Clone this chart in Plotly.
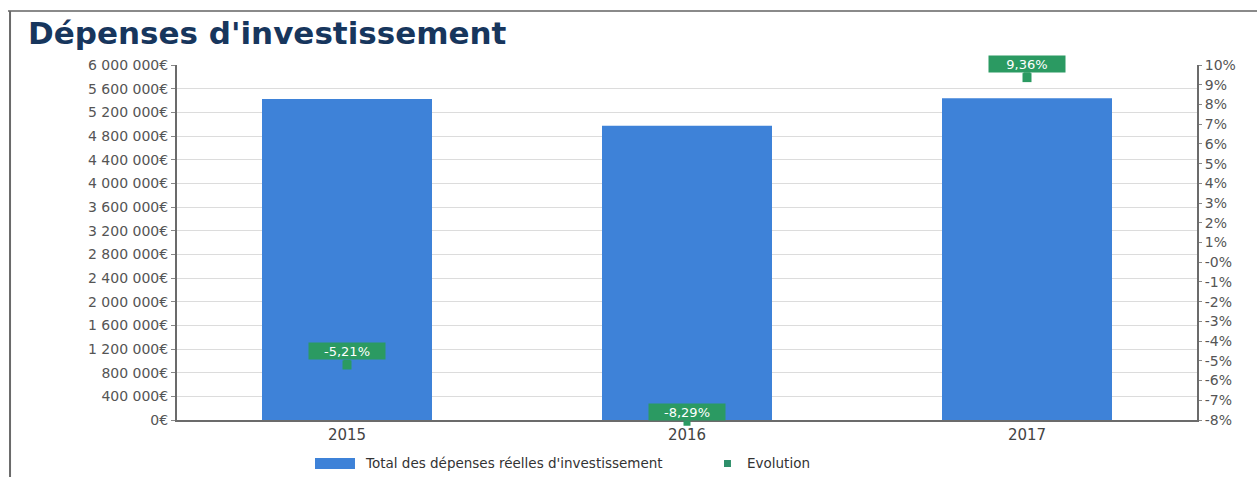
import plotly.graph_objects as go

# Data
years = ["2015", "2016", "2017"]
depenses = [5425000, 4975000, 5440000]
evolution = [-5.21, -8.29, 9.36]
evolution_labels = ["-5,21%", "-8,29%", "9,36%"]

left_ticks = list(range(0, 6000001, 400000))
right_ticks = list(range(-8, 11))


def euro(v):
    s = f"{v:,}".replace(",", " ")
    return s + "€"


def pct(v):
    return "-0%" if v == 0 else f"{v}%"


BLUE = "#3e82d8"
GREEN = "#2b9a62"
TICK_FONT = dict(family="DejaVu Sans", size=14, color="#555555")
LABEL_LIFT = 0.7  # label box sits this far (in % units) above its point

fig = go.Figure()

fig.add_trace(go.Bar(
    x=years, y=depenses, width=0.5, marker=dict(color=BLUE, line=dict(width=0)),
    name="Total des dépenses réelles d'investissement", showlegend=False,
))

fig.add_trace(go.Scatter(
    x=years, y=evolution, yaxis="y2", mode="markers",
    marker=dict(symbol="square", size=9, color=GREEN),
    cliponaxis=False, name="Evolution", showlegend=False,
))

# Value labels for the evolution series: green callout boxes pointing at each point
annotations = []
for i, (v, lab) in enumerate(zip(evolution, evolution_labels)):
    annotations.append(dict(
        x=i, y=v, xref="x", yref="y2", text=lab,
        showarrow=True, arrowhead=0, arrowwidth=7, arrowcolor=GREEN,
        ax=0, ayref="y2", ay=v + LABEL_LIFT,
        bgcolor=GREEN, width=74, height=14,
        font=dict(family="DejaVu Sans", size=13, color="white"),
    ))

# Legend drawn by hand
shapes = [
    dict(type="rect", xref="paper", yref="paper", x0=0.1353, x1=0.1745,
         y0=-0.138, y1=-0.107, fillcolor=BLUE, line=dict(width=0)),
    dict(type="rect", xref="paper", yref="paper", x0=0.5363, x1=0.5431,
         y0=-0.1324, y1=-0.1127, fillcolor="#2e8f6a", line=dict(width=0)),
    # page frame
    dict(type="line", xref="paper", yref="paper", x0=-0.1657, x1=1.06,
         y0=1.1521, y1=1.1521, line=dict(color="#8a8a8a", width=2)),
    dict(type="line", xref="paper", yref="paper", x0=-0.1637, x1=-0.1637,
         y0=1.1521, y1=-0.17, line=dict(color="#6a6a6a", width=2)),
]
annotations += [
    dict(x=0.1824, y=-0.1225, xref="paper", yref="paper", xanchor="left",
         yanchor="middle", showarrow=False,
         text="Total des dépenses réelles d'investissement",
         font=dict(family="DejaVu Sans", size=13.5, color="#333333")),
    dict(x=0.5569, y=-0.1225, xref="paper", yref="paper", xanchor="left",
         yanchor="middle", showarrow=False, text="Evolution",
         font=dict(family="DejaVu Sans", size=13.5, color="#333333")),
]

fig.update_layout(
    width=1257, height=477,
    margin=dict(l=177, r=60, t=65, b=57),
    paper_bgcolor="white", plot_bgcolor="white",
    title=dict(text="<b>Dépenses d'investissement</b>", x=0.0223, xref="container",
               xanchor="left", y=0.931, yref="container", yanchor="middle",
               font=dict(family="DejaVu Sans", size=31, color="#17365d")),
    xaxis=dict(type="category", range=[-0.5, 2.5], showgrid=False, zeroline=False,
               showline=True, linecolor="#6b6b6b", linewidth=2,
               tickfont=dict(family="DejaVu Sans", size=15, color="#444444"),
               ticks=""),
    yaxis=dict(range=[0, 6000000], tickvals=left_ticks,
               ticktext=[euro(v) for v in left_ticks], tickfont=TICK_FONT,
               showgrid=True, gridcolor="#dcdcdc", gridwidth=1, zeroline=False,
               showline=True, linecolor="#6b6b6b", linewidth=2,
               ticks="outside", ticklen=4, tickcolor="#888888"),
    yaxis2=dict(range=[-8, 10], tickvals=right_ticks,
                ticktext=[pct(v) for v in right_ticks], tickfont=TICK_FONT,
                overlaying="y", side="right", showgrid=False, zeroline=False,
                showline=True, linecolor="#6b6b6b", linewidth=2,
                ticks="outside", ticklen=3, tickcolor="#888888"),
    annotations=annotations,
    shapes=shapes,
    showlegend=False,
)

fig.write_html("out.html")
